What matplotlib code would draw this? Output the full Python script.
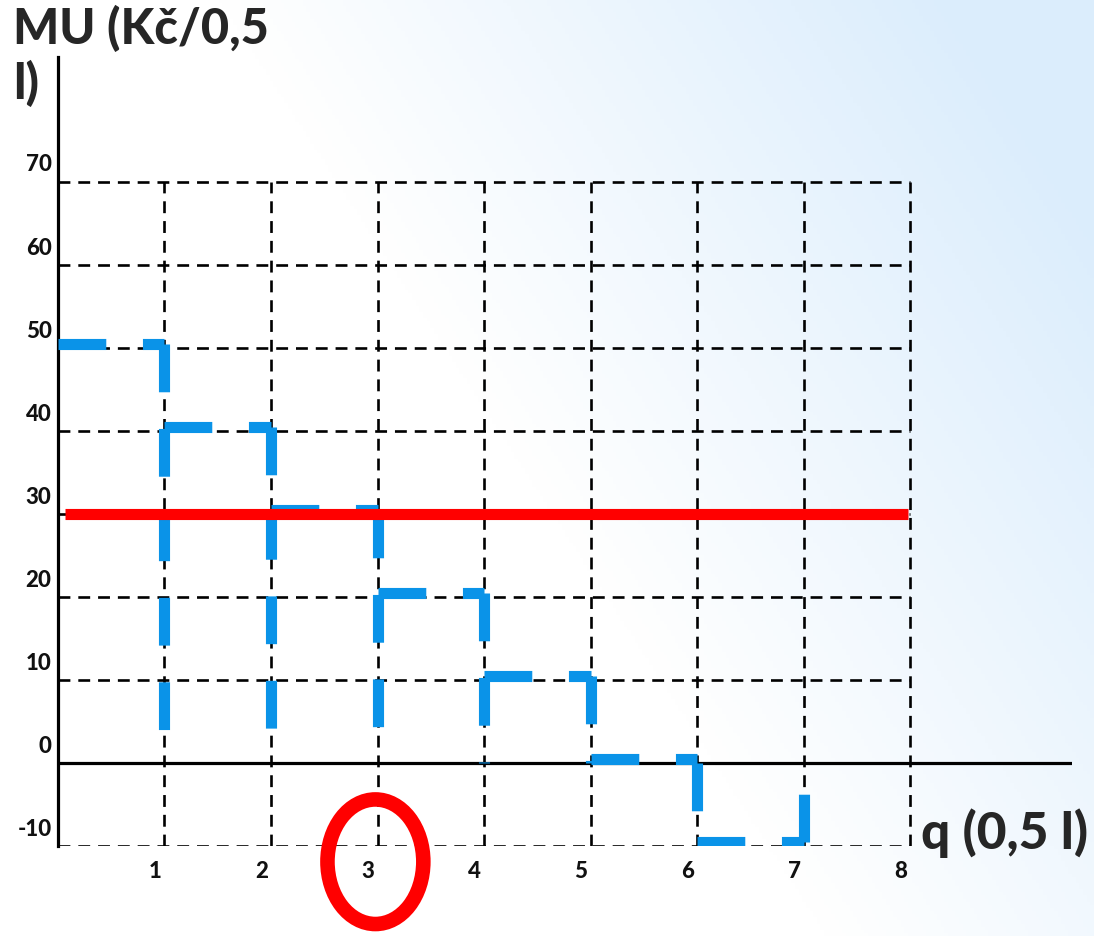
import matplotlib.pyplot as plt
import numpy as np
from matplotlib.patches import Ellipse

plt.rcParams['font.family'] = ['Lato', 'DejaVu Sans']

# data
q = [1, 2, 3, 4, 5, 6, 7]
mu = [50, 40, 30, 20, 10, 0, -10]
price = 30
yticks = [70, 60, 50, 40, 30, 20, 10, 0, -10]
xticks = [1, 2, 3, 4, 5, 6, 7, 8]
circled_q = 3

blue = '#0A93E8'

fig = plt.figure(figsize=(10.94, 9.36), dpi=100)

# light gradient background
bg = fig.add_axes([0, 0, 1, 1], zorder=-10)
gx, gy = np.meshgrid(np.linspace(0, 1, 300), np.linspace(0, 1, 300))
t = np.clip((gx * 0.9 + (1 - gy) * 0.5 - 0.68) / 0.6, 0, 1)
c0 = np.array([1.0, 1.0, 1.0])
c1 = np.array([0.86, 0.93, 0.99])
img = c0 + (c1 - c0) * t[..., None]
bg.imshow(img, aspect='auto', extent=[0, 1, 0, 1])
bg.axis('off')

ax = fig.add_axes([0.0530, 0.0962, 0.9269, 0.8429])
ax.set_facecolor('none')
ax.set_xlim(0, 9.52)
ax.set_ylim(-10, 85)
for s in ['top', 'right', 'bottom']:
    ax.spines[s].set_visible(False)
ax.spines['left'].set_linewidth(2.3)
ax.set_xticks([])
ax.set_yticks([])

# dashed grid
grid_kw = dict(color='black', lw=1.9, linestyle=(0, (4.5, 3)), zorder=1)
for v in yticks:
    ax.plot([0, 8], [v, v], **grid_kw)
for v in xticks:
    ax.plot([v, v], [-10, 70], **grid_kw)

# x axis at zero
ax.axhline(0, color='black', lw=2.3, zorder=2)

# MU steps: outline of each unit, every side dashed on its own
seg_kw = dict(color=blue, lw=8, linestyle=(0, (4.3, 3.3)),
              dash_capstyle='butt', zorder=3)
up = 0.5  # the drawn steps sit a little above the grid lines
for i, m in enumerate(mu):
    x0, x1 = q[i] - 1, q[i]
    if m < 0:
        ax.plot([x0, x0], [0, m + up], **seg_kw)
    ax.plot([x0, x1], [m + up, m + up], **seg_kw)
    if m != 0:
        ax.plot([x1, x1], [m + up, 0], **seg_kw)

# price line
ax.plot([0.07, 7.98], [price, price], color='#FF0000', lw=8,
        solid_capstyle='butt', zorder=4)

# tick labels
for v in yticks:
    ax.text(-0.06, v + 2.0, str(v), ha='right', va='center',
            fontsize=16, fontweight='black', color='#111111')
for v in xticks:
    ax.text(v - 0.09, -13.1, str(v), ha='center', va='center',
            fontsize=16, fontweight='black', color='#111111')

# circle around q = 3
ax.add_patch(Ellipse((circled_q - 0.02, -11.9), 0.90, 15.0, fill=False,
                     edgecolor='#FF0000', lw=10.5, clip_on=False, zorder=5))

# axis titles
fig.text(0.012, 0.995, 'MU (Kč/0,5\nl)', ha='left', va='top',
         fontsize=35, fontweight='black', color='#262626', linespacing=1.2)
fig.text(0.995, 0.110, 'q (0,5 l)', ha='right', va='center',
         fontsize=37, fontweight='black', color='#262626')

fig.savefig('out.png', dpi=100)
